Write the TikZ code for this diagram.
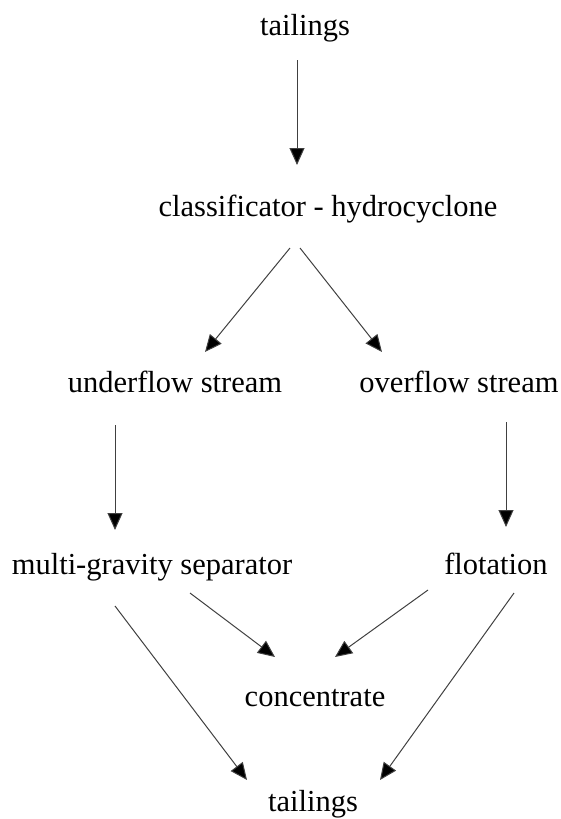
\documentclass[tikz,border=0pt]{standalone}
\usepackage{fontspec}
\setmainfont{Liberation Serif}
\usetikzlibrary{arrows.meta}
\tikzset{
    lbl/.style={anchor=base, inner sep=0pt, font=\fontsize{30.5}{36}\selectfont},
    flow/.style={-{Triangle[length=17pt,width=15pt,fill=black]}, line width=1pt, draw=black!75}
}
\begin{document}
\begin{tikzpicture}[x=1pt, y=-1pt]
        \useasboundingbox (0, 0) rectangle (561, 819); % page size

        \node[lbl] (t1) at (305, 35) {tailings};
        \node[lbl] (cls) at (328, 216) {classificator - hydrocyclone};
        \node[lbl] (under) at (175, 392) {underflow stream};
        \node[lbl] (over) at (459, 392) {overflow stream};
        \node[lbl] (multi) at (152, 574) {multi-gravity separator};
        \node[lbl] (flot) at (496, 574) {flotation};
        \node[lbl] (conc) at (315, 706) {concentrate};
        \node[lbl] (t2) at (313, 811) {tailings};

        \draw[flow] ([shift={(-8,25)}]t1.base) -- ([shift={(-31,-51)}]cls.base);
        \draw[flow] ([shift={(-38,32)}]cls.base) -- ([shift={(30,-40)}]under.base);
        \draw[flow] ([shift={(-28,32)}]cls.base) -- ([shift={(-77,-40)}]over.base);
        \draw[flow] ([shift={(-60,33)}]under.base) -- ([shift={(-37,-44)}]multi.base);
        \draw[flow] ([shift={(47,30)}]over.base) -- ([shift={(10,-47)}]flot.base);
        \draw[flow] ([shift={(38,19)}]multi.base) -- ([shift={(-40,-49)}]conc.base);
        \draw[flow] ([shift={(-68,16)}]flot.base) -- ([shift={(20,-49)}]conc.base);
        \draw[flow] ([shift={(-37,32)}]multi.base) -- ([shift={(-66,-31)}]t2.base);
        \draw[flow] ([shift={(18,19)}]flot.base) -- ([shift={(67,-31)}]t2.base);
    \end{tikzpicture}
\end{document}
